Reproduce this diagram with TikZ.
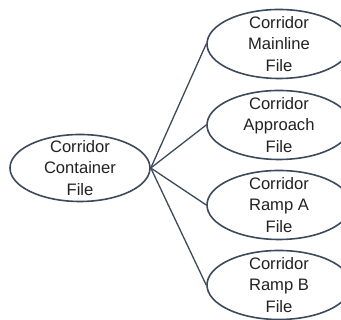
\documentclass[tikz,border=0pt]{standalone}
\usepackage{fontspec}
\setmainfont{Liberation Sans}
\usetikzlibrary{shapes.geometric}
\definecolor{edgec}{HTML}{3D4A5C}
\definecolor{txtc}{HTML}{222222}
\tikzset{
  oval/.style={ellipse, draw=edgec, line width=1.6pt, inner sep=0pt, fill=white},
  bigoval/.style={oval, minimum width=140pt, minimum height=67pt},
  smalloval/.style={oval, minimum width=144pt, minimum height=69pt},
  lbl/.style={font=\fontsize{16.6}{21.5}\selectfont, text=txtc, align=center, inner sep=0pt},
  conn/.style={draw=edgec, line width=1.3pt}
}
\begin{document}
\begin{tikzpicture}[x=1pt,y=1pt]
\useasboundingbox (0,0) rectangle (341,320);
\clip (0,0) rectangle (341,320);
\fill[white] (0,0) rectangle (341,320);
\node[bigoval] (cont) at (80,152) {};
\node[smalloval] (main) at (279,276) {};
\node[smalloval] (appr) at (279,195) {};
\node[smalloval] (rampa) at (279,115) {};
\node[smalloval] (rampb) at (279,35) {};
\draw[conn] (cont.east) -- (main.west);
\draw[conn] (cont.east) -- (appr.west);
\draw[conn] (cont.east) -- (rampa.west);
\draw[conn] (cont.east) -- (rampb.west);
\node[lbl] (tcont) at (cont.center) {Corridor\\Container\\File};
\node[lbl] (tmain) at (main.center) {Corridor\\Mainline\\File};
\node[lbl] (tappr) at (appr.center) {Corridor\\Approach\\File};
\node[lbl] (trampa) at (rampa.center) {Corridor\\Ramp A\\File};
\node[lbl] (trampb) at (rampb.center) {Corridor\\Ramp B\\File};
\end{tikzpicture}
\end{document}
